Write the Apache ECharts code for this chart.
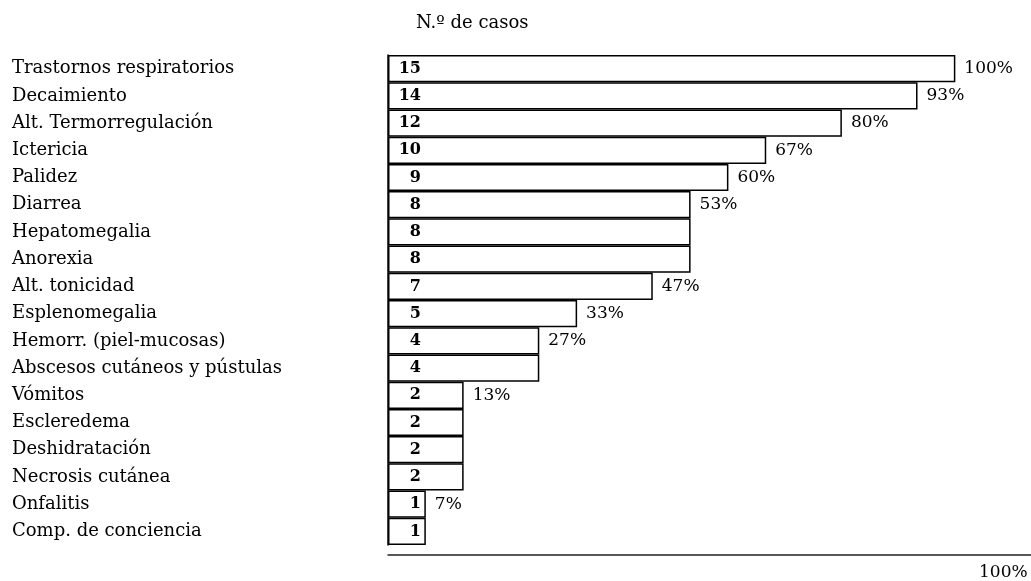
<!DOCTYPE html>
<html>
<head>
<meta charset="utf-8">
<script src="https://cdn.jsdelivr.net/npm/echarts@6/dist/echarts.min.js"></script>
<style>
  html, body { margin: 0; padding: 0; background: #fff; }
  #chart { width: 1031px; height: 581px; }
</style>
</head>
<body>
<div id="chart"></div>
<script>
// sintomas, de mayor a menor
var sintomas = [
  'Trastornos respiratorios', 'Decaimiento', 'Alt. Termorregulación', 'Ictericia',
  'Palidez', 'Diarrea', 'Hepatomegalia', 'Anorexia', 'Alt. tonicidad',
  'Esplenomegalia', 'Hemorr. (piel-mucosas)', 'Abscesos cutáneos y pústulas',
  'Vómitos', 'Escleredema', 'Deshidratación', 'Necrosis cutánea', 'Onfalitis',
  'Comp. de conciencia'
];
var casos = [15, 14, 12, 10, 9, 8, 8, 8, 7, 5, 4, 4, 2, 2, 2, 2, 1, 1];
var porcentajes = ['100%', '93%', '80%', '67%', '60%', '53%', '', '', '47%',
  '33%', '27%', '', '13%', '', '', '', '7%', ''];
var tituloEje = 'N.º de casos';
var finEje = '100%';

var fuente = 'DejaVu Serif';
var chart = echarts.init(document.getElementById('chart'));

var option = {
  backgroundColor: '#fff',
  animation: false,
  title: {
    text: tituloEje,
    left: 411,
    top: 9,
    textStyle: { fontFamily: fuente, fontSize: 18, fontWeight: 'normal', color: '#000' }
  },
  grid: { left: 388, right: 0, top: 55, bottom: 33 },
  xAxis: {
    type: 'value',
    min: 0,
    max: 17,
    offset: 10,
    splitLine: { show: false },
    axisTick: { show: false },
    axisLabel: { show: false },
    axisLine: { show: true, lineStyle: { color: '#222', width: 1.5 } },
    name: finEje,
    nameLocation: 'end',
    nameGap: -52,
    nameTextStyle: {
      fontFamily: fuente, fontSize: 17, color: '#000',
      align: 'left', verticalAlign: 'top', padding: [9, 0, 0, 0]
    }
  },
  yAxis: {
    type: 'category',
    inverse: true,
    data: sintomas,
    axisTick: { show: false },
    axisLine: { show: true, lineStyle: { color: '#000', width: 1.5 } },
    axisLabel: {
      margin: 376,
      align: 'left',
      fontFamily: fuente,
      fontSize: 18,
      color: '#000'
    }
  },
  series: [
    {
      name: 'casos',
      type: 'bar',
      data: casos,
      barWidth: '100%',
      itemStyle: { color: '#fff', borderColor: '#000', borderWidth: 1.5 },
      label: {
        show: true,
        position: [33, '50%'],
        align: 'right',
        verticalAlign: 'middle',
        fontFamily: fuente,
        fontSize: 16,
        fontWeight: 'bold',
        color: '#000'
      }
    },
    {
      name: 'porcentaje',
      type: 'bar',
      data: casos,
      barWidth: '100%',
      barGap: '-100%',
      silent: true,
      itemStyle: { color: 'rgba(0,0,0,0)', borderWidth: 0 },
      label: {
        show: true,
        position: 'right',
        distance: 9,
        fontFamily: fuente,
        fontSize: 17,
        color: '#000',
        formatter: function (p) { return porcentajes[p.dataIndex]; }
      }
    }
  ]
};

chart.setOption(option);
</script>
</body>
</html>
